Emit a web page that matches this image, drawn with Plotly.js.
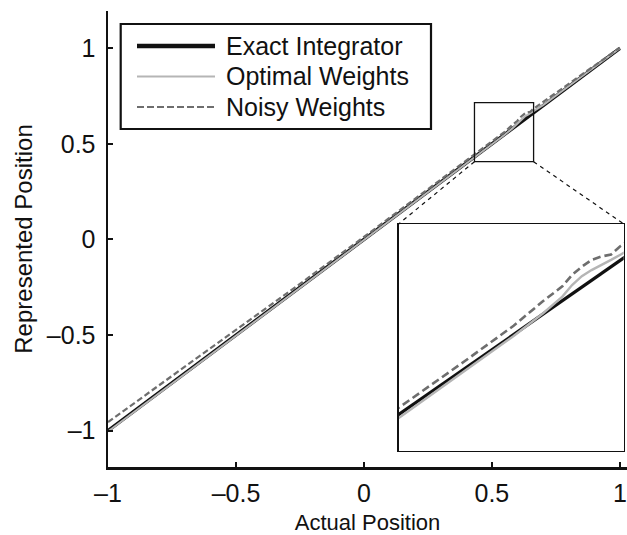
<!DOCTYPE html>
<html>
<head>
<meta charset="utf-8">
<script src="https://cdn.plot.ly/plotly-3.0.1.min.js"></script>
<style>html,body{margin:0;padding:0;background:#fff}#chart{width:627px;height:535px}</style>
</head>
<body>
<div id="chart"></div>
<script>
// ---- data ----
var seriesNames = ["Exact Integrator", "Optimal Weights", "Noisy Weights"];
var xExact = [-1, 1];
var yExact = [-1, 1];
var xOptimal = [-1, -0.5, 0, 0.43, 0.55, 0.58, 0.59, 0.6, 0.61, 0.62, 0.63, 0.64, 0.65, 0.66, 0.7, 1];
var yOptimal = [-1.004, -0.503, -0.002, 0.425, 0.548, 0.581, 0.594, 0.606, 0.623, 0.636, 0.645, 0.652, 0.660, 0.668, 0.703, 1.0];
var xNoisy = [-1, -0.75, -0.5, -0.25, 0, 0.25, 0.43, 0.5, 0.55, 0.58, 0.6, 0.61, 0.62, 0.63, 0.64, 0.65, 0.66, 0.7, 0.8, 0.9, 1];
var yNoisy = [-0.955, -0.714, -0.476, -0.232, 0.013, 0.261, 0.440, 0.511, 0.563, 0.599, 0.621, 0.638, 0.650, 0.660, 0.665, 0.668, 0.681, 0.719, 0.815, 0.910, 1.003];
var xTicks = [-1, -0.5, 0, 0.5, 1];
var yTicks = [-1, -0.5, 0, 0.5, 1];
var tickLabels = ["\u20131", "\u20130.5", "0", "0.5", "1"];
var zoomX = [0.432, 0.663];   // zoom box on main axes
var zoomY = [0.407, 0.716];
var insetX = [0.432, 0.663];  // inset axis ranges
var insetY = [0.379, 0.713];

// ---- layout constants ----
var W = 627, H = 535, ML = 108, MR = 0, MT = 11, MB = 68;
var mainX = [-1, 1.028], mainY = [-1.19, 1.195];
var insetDomX = [0.560, 0.9937], insetDomY = [0.036, 0.533];
var FONT = "Liberation Sans, Arial, Helvetica, sans-serif";

function px(x){ return (x - mainX[0]) / (mainX[1] - mainX[0]); }
function py(y){ return (y - mainY[0]) / (mainY[1] - mainY[0]); }
// pixel -> paper helpers (for the legend box)
function ppx(X){ return (X - ML) / (W - ML - MR); }
function ppy(Y){ return (H - MB - Y) / (H - MT - MB); }

var cExact = "#111111", cOpt = "#b5b5b5", cNoisy = "#6e6e6e";
var styles = [
  {color: cExact, width: 3.5},
  {color: cOpt, width: 2},
  {color: cNoisy, width: 2.2, dash: "6px,3px"}
];
var legendStyles = [
  {color: cExact, width: 4.5},
  {color: cOpt, width: 2.2},
  {color: cNoisy, width: 2, dash: "7px,3px"}
];

var traces = [
  {x: xExact, y: yExact, name: seriesNames[0], mode: "lines", line: styles[0]},
  {x: xOptimal, y: yOptimal, name: seriesNames[1], mode: "lines", line: styles[1]},
  {x: xNoisy, y: yNoisy, name: seriesNames[2], mode: "lines", line: styles[2]},
  {x: xExact, y: yExact, xaxis: "x2", yaxis: "y2", name: seriesNames[0], mode: "lines", line: {color: cExact, width: 3.2}},
  {x: xOptimal, y: yOptimal, xaxis: "x2", yaxis: "y2", name: seriesNames[1], mode: "lines", line: {color: cOpt, width: 2.4}},
  {x: xNoisy, y: yNoisy, xaxis: "x2", yaxis: "y2", name: seriesNames[2], mode: "lines", line: {color: cNoisy, width: 2.6, dash: "8px,4px"}}
];

var axisCommon = {
  showgrid: false, zeroline: false, showline: true, linecolor: "#111", linewidth: 2.5,
  ticks: "inside", ticklen: 5, tickwidth: 2, tickcolor: "#111",
  tickfont: {family: FONT, size: 25, color: "#111"}
};

// manual legend (box, line samples, labels)
var legBox = {x0: 120.7, x1: 431, y0: 24, y1: 129};
var rowY = [46, 76.5, 107];
var shapes = [
  {type: "rect", xref: "x", yref: "y", x0: zoomX[0], x1: zoomX[1], y0: zoomY[0], y1: zoomY[1],
   line: {color: "#111", width: 1.3}},
  {type: "line", xref: "paper", yref: "paper", x0: px(zoomX[0]), y0: py(zoomY[0]), x1: insetDomX[0], y1: insetDomY[1],
   line: {color: "#111", width: 1.2, dash: "4px,4px"}},
  {type: "line", xref: "paper", yref: "paper", x0: px(zoomX[1]), y0: py(zoomY[0]), x1: insetDomX[1], y1: insetDomY[1],
   line: {color: "#111", width: 1.2, dash: "4px,4px"}},
  {type: "rect", xref: "paper", yref: "paper", x0: ppx(legBox.x0), x1: ppx(legBox.x1), y0: ppy(legBox.y1), y1: ppy(legBox.y0),
   fillcolor: "#fff", line: {color: "#111", width: 2.2}, layer: "above"}
];
var annotations = [];
for (var i = 0; i < seriesNames.length; i++) {
  shapes.push({type: "line", xref: "paper", yref: "paper", x0: ppx(137), x1: ppx(215), y0: ppy(rowY[i]), y1: ppy(rowY[i]),
    line: legendStyles[i], layer: "above"});
  annotations.push({xref: "paper", yref: "paper", x: ppx(224), y: ppy(rowY[i]), xanchor: "left", yanchor: "middle",
    text: seriesNames[i], showarrow: false, font: {family: FONT, size: 25, color: "#111"}});
}

var layout = {
  width: W, height: H,
  margin: {l: ML, r: MR, t: MT, b: MB},
  paper_bgcolor: "#fff", plot_bgcolor: "#fff",
  font: {family: FONT, color: "#111"},
  showlegend: false,
  xaxis: Object.assign({}, axisCommon, {
    range: mainX, tickvals: xTicks, ticktext: tickLabels,
    title: {text: "Actual Position", font: {family: FONT, size: 22, color: "#111"}, standoff: 10},
    ticklabelstandoff: 2
  }),
  yaxis: Object.assign({}, axisCommon, {
    range: mainY, tickvals: yTicks, ticktext: tickLabels,
    title: {text: "Represented Position", font: {family: FONT, size: 24, color: "#111"}, standoff: 8},
    ticklabelstandoff: 5
  }),
  xaxis2: {domain: insetDomX, anchor: "y2", range: insetX, showgrid: false, zeroline: false,
    showline: true, mirror: true, linecolor: "#111", linewidth: 1.3, showticklabels: false, ticks: ""},
  yaxis2: {domain: insetDomY, anchor: "x2", range: insetY, showgrid: false, zeroline: false,
    showline: true, mirror: true, linecolor: "#111", linewidth: 1.3, showticklabels: false, ticks: ""},
  shapes: shapes,
  annotations: annotations
};

Plotly.newPlot("chart", traces, layout, {staticPlot: true});
</script>
</body>
</html>
